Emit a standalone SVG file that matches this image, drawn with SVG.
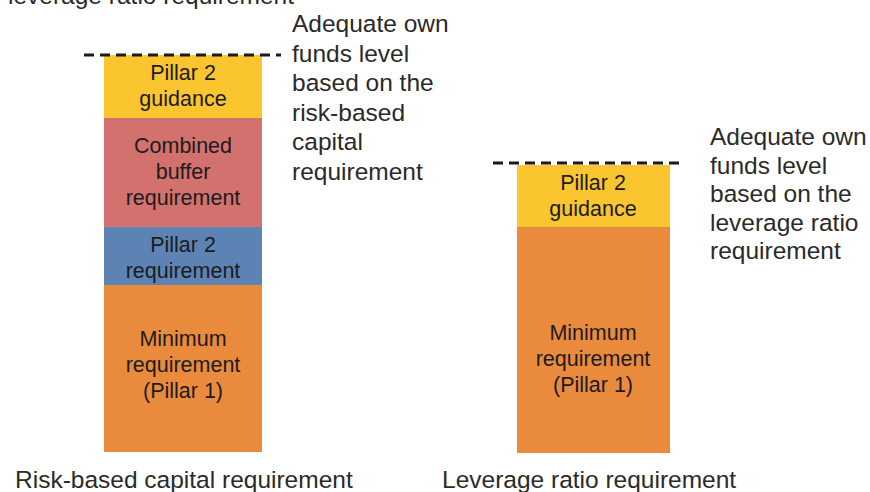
<svg xmlns="http://www.w3.org/2000/svg" width="870" height="492" viewBox="0 0 870 492">
<style>
text{font-family:"Liberation Sans",Arial,sans-serif;fill:#222}
.b{font-size:21.5px;text-anchor:middle;fill:#1c1c1c}
.a{font-size:24.5px;fill:#2a2a2a}
.dash{stroke:#1a1a1a;stroke-width:3;stroke-dasharray:10 6;fill:none}
.y{fill:#FAC52E}.r{fill:#D3716E}.bl{fill:#5D83B5}.o{fill:#EA8A3C}
</style>
<rect width="870" height="492" fill="#fff"/>
<text class="a" x="8" y="4">leverage ratio requirement</text>
<g id="left-guidance"><rect class="y" x="104" y="55" width="158" height="63"/><text class="b" x="183" y="80">Pillar 2</text><text class="b" x="183" y="106">guidance</text></g>
<g id="left-buffer"><rect class="r" x="104" y="118" width="158" height="109"/><text class="b" x="183" y="153">Combined</text><text class="b" x="183" y="179">buffer</text><text class="b" x="183" y="205">requirement</text></g>
<g id="left-p2r"><rect class="bl" x="104" y="227" width="158" height="58"/><text class="b" x="183" y="252">Pillar 2</text><text class="b" x="183" y="278">requirement</text></g>
<g id="left-min"><rect class="o" x="104" y="285" width="158" height="167"/><text class="b" x="183" y="346">Minimum</text><text class="b" x="183" y="372">requirement</text><text class="b" x="183" y="398">(Pillar 1)</text></g>
<g id="right-guidance"><rect class="y" x="517" y="165" width="153" height="62"/><text class="b" x="593" y="190">Pillar 2</text><text class="b" x="593" y="216">guidance</text></g>
<g id="right-min"><rect class="o" x="517" y="227" width="153" height="226"/><text class="b" x="593" y="340">Minimum</text><text class="b" x="593" y="366">requirement</text><text class="b" x="593" y="392">(Pillar 1)</text></g>
<g id="connectors"><line class="dash" x1="84" y1="55" x2="281" y2="55"/><line class="dash" x1="493" y1="163" x2="683" y2="163"/></g>
<g id="left-annotation"><text class="a" x="292" y="32">Adequate own</text><text class="a" x="292" y="61.5">funds level</text><text class="a" x="292" y="91">based on the</text><text class="a" x="292" y="120.5">risk-based</text><text class="a" x="292" y="150">capital</text><text class="a" x="292" y="179.5">requirement</text></g>
<g id="right-annotation"><text class="a" x="710" y="145">Adequate own</text><text class="a" x="710" y="173.5">funds level</text><text class="a" x="710" y="202">based on the</text><text class="a" x="710" y="230.5">leverage ratio</text><text class="a" x="710" y="259">requirement</text></g>
<g id="labels"><text class="a" x="15" y="488">Risk-based capital requirement</text><text class="a" x="442" y="488">Leverage ratio requirement</text></g>
</svg>
